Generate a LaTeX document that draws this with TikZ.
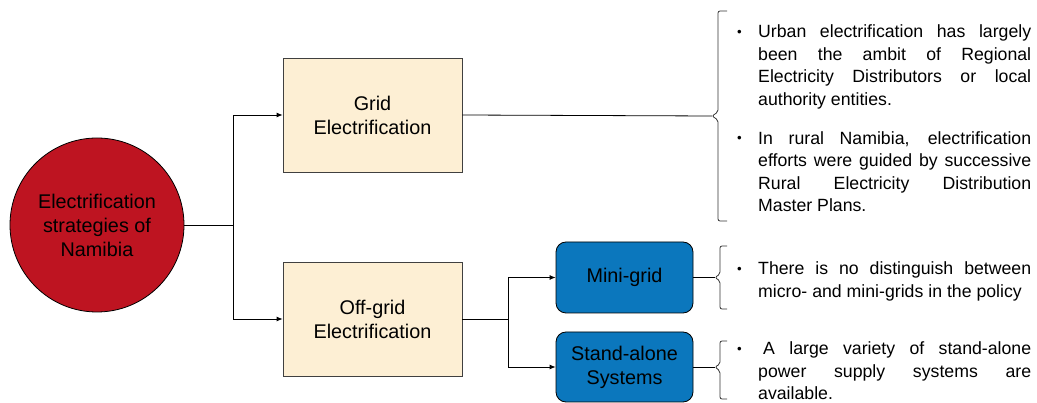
\documentclass[tikz,border=0pt]{standalone}
\usepackage{fontspec}
\setmainfont{Liberation Sans}
\usetikzlibrary{arrows.meta}
\definecolor{nred}{HTML}{BE1421}
\definecolor{cream}{HTML}{FDEFD4}
\definecolor{nblue}{HTML}{0B77BD}
\newcommand\mybul{\makebox[21pt][l]{\raisebox{1.5pt}{\scalebox{0.75}{\textbullet}}}}
\begin{document}
\begin{tikzpicture}[x=1pt,y=-1pt,
  conn/.style={line width=0.8pt, draw=black},
  arr/.style={conn, -{Latex[length=6pt,width=5pt]}},
  brc/.style={line width=0.8pt, draw=black!80, rounded corners=2pt},
  boxtxt/.style={font=\fontsize{19.8}{24}\selectfont, align=center, text=black},
  cbox/.style={boxtxt, rectangle, fill=cream, draw=black!75, line width=0.8pt, minimum width=179pt, minimum height=114pt},
  bbox/.style={boxtxt, rectangle, rounded corners=10pt, fill=nblue, draw=black, line width=0.8pt, minimum width=137pt, minimum height=71pt},
  note/.style={font=\fontsize{17.7}{22.5}\selectfont, text width=294pt, align=justify, inner sep=0pt, anchor=north west}
]
\useasboundingbox (0,0) rectangle (1037,403);
\node[boxtxt, circle, fill=nred, draw=black, line width=0.8pt, minimum size=174pt, inner sep=0pt] (circ) at (97,225) {Electrification\\strategies of\\Namibia};
\node[cbox] (grid) at (372.5,115) {Grid\\Electrification};
\node[cbox] (off) at (372.5,319) {Off-grid\\Electrification};
\node[bbox] (mini) at (624.5,277.5) {Mini-grid};
\node[bbox, minimum height=70pt] (stand) at (624.5,367) {Stand-alone\\Systems};
\coordinate (j1) at (233,225);
\coordinate (j2) at (508,319);
\draw[conn] (circ.east) -- (j1);
\draw[arr] (j1) |- (grid.west);
\draw[arr] (j1) |- (off.west);
\draw[conn] (off.east) -- (j2);
\draw[arr] (j2) |- (mini.west);
\draw[arr] (j2) |- (stand.west);
% braces
\coordinate (t1) at (712,116);
\coordinate (t2) at (715,277.5);
\coordinate (t3) at (715,367);
\draw[conn] (grid.east) -- (t1);
\draw[conn] (mini.east) -- (t2);
\draw[conn] (stand.east) -- (t3);
\draw[brc] (727,11) -- (718,11) -- (718,112) -- (t1) -- (718,120) -- (718,221) -- (727,221);
\draw[brc] (727,246) -- (720,246) -- (720,274) -- (t2) -- (720,281) -- (720,309) -- (727,309);
\draw[brc] (727,341) -- (720,341) -- (720,364) -- (t3) -- (720,371) -- (720,399) -- (727,399);
% notes
\node[note] (n1) at (737,24.5) {\noindent\hangindent=21pt\hangafter=1\mybul Urban electrification has largely\linebreak been the ambit of Regional\linebreak Electricity Distributors or local\linebreak authority entities.\par
\vspace{16.5pt}
\noindent\hangindent=21pt\hangafter=1\mybul In rural Namibia, electrification\linebreak efforts were guided by successive\linebreak Rural Electricity Distribution\linebreak Master Plans.\par};
\node[note] (n2) at (737,261.5) {\noindent\hangindent=21pt\hangafter=1\mybul There is no distinguish between\linebreak micro- and mini-grids in the policy\par};
\node[note] (n3) at (737,341.5) {\noindent\hangindent=21pt\hangafter=1\mybul\hspace{5pt}A large variety of stand-alone\linebreak power supply systems are\linebreak available.\par};
\end{tikzpicture}
\end{document}
